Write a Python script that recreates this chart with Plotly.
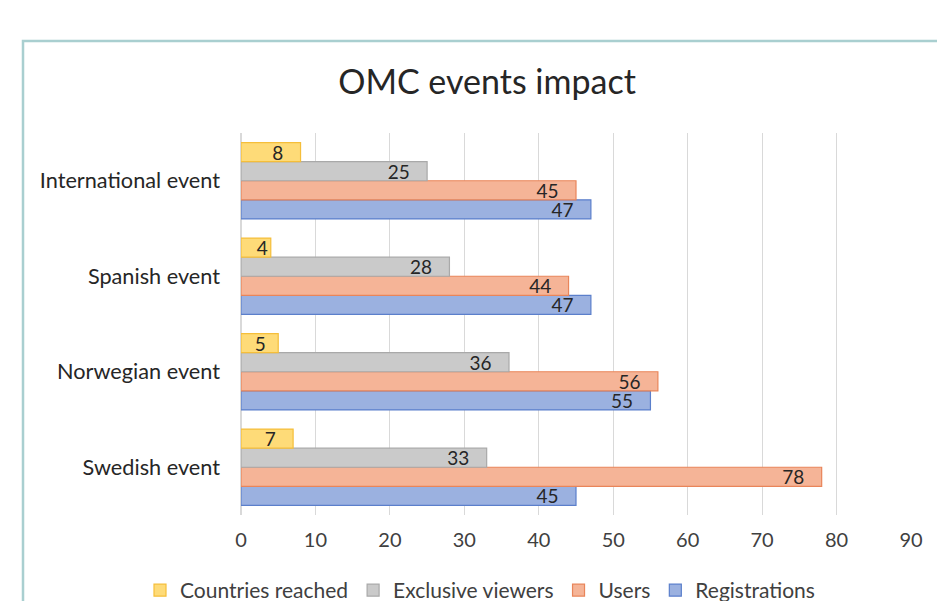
import plotly.graph_objects as go

categories = ["Swedish event", "Norwegian event", "Spanish event", "International event"]
countries_reached = [7, 5, 4, 8]
exclusive_viewers = [33, 36, 28, 25]
users = [78, 56, 44, 45]
registrations = [45, 55, 47, 47]
x_ticks = [0, 10, 20, 30, 40, 50, 60, 70, 80, 90]

series = [
    ("Registrations", registrations, "#9BB1E0", "#5B7FCB"),
    ("Users", users, "#F5B497", "#E9855A"),
    ("Exclusive viewers", exclusive_viewers, "#CACACA", "#A9A9A9"),
    ("Countries reached", countries_reached, "#FEDB78", "#F5BE3A"),
]

FONT = "Lato, Liberation Sans, sans-serif"

W, H = 937, 601
L, R, T, B = 241, 911, 133, 515
XMAX = 90
PX_PER_UNIT = (R - L) / XMAX


def label_text(v):
    # Excel-like "inside end" labels: extra gap from the bar end when it fits
    w = v * PX_PER_UNIT
    if w >= 45:
        return f"{v}\u2002\u00a0"
    if w >= 35:
        return f"{v}\u2002"
    return f"{v}"


fig = go.Figure()
for name, vals, fill, border in series:
    fig.add_trace(go.Bar(
        y=categories, x=vals, name=name, orientation="h",
        marker=dict(color=fill, line=dict(color=border, width=1.2)),
        text=[label_text(v) for v in vals], textposition="inside",
        insidetextanchor="end", textangle=0,
        textfont=dict(family=FONT, size=19, color="#262626"),
        constraintext="none", cliponaxis=False,
    ))

fig.update_layout(
    width=W, height=H,
    margin=dict(l=L, r=W - R, t=T, b=H - B, autoexpand=False),
    barmode="group", bargap=0.2, bargroupgap=0,
    paper_bgcolor="white", plot_bgcolor="white",
    font=dict(family=FONT, size=20, color="#404040"),
    title=dict(text="OMC events impact", x=487 / W, xanchor="center",
               y=1 - 82 / H, yanchor="middle",
               font=dict(family=FONT, size=34, color="#262626")),
    xaxis=dict(range=[0, XMAX], tickvals=x_ticks, showgrid=True,
               gridcolor="#D9D9D9", gridwidth=1, zeroline=True,
               zerolinecolor="#D9D9D9", showline=False, ticks="",
               tickfont=dict(family=FONT, size=20, color="#404040"),
               ticklabelstandoff=11, fixedrange=True),
    yaxis=dict(categoryorder="array", categoryarray=categories,
               showgrid=False, ticks="", showline=False,
               tickfont=dict(family=FONT, size=21.7, color="#262626"),
               ticklabelstandoff=20, fixedrange=True),
    legend=dict(orientation="h", traceorder="reversed",
                x=(140 - L) / (R - L), xanchor="left",
                y=(B - 570) / (B - T), yanchor="top",
                font=dict(family=FONT, size=21, color="#404040"),
                itemwidth=30, tracegroupgap=0, itemclick=False),
    showlegend=True,
    shapes=[dict(type="rect", xref="paper", yref="paper",
                 x0=(23 - L) / (R - L), x1=(960 - L) / (R - L),
                 y0=(B - 620) / (B - T), y1=(B - 41) / (B - T),
                 line=dict(color="#A9CFD0", width=2.5), layer="below")],
)

fig.write_html("out.html", config={"displayModeBar": False},
               post_script="document.body.style.margin='0';document.body.style.overflow='hidden';")
